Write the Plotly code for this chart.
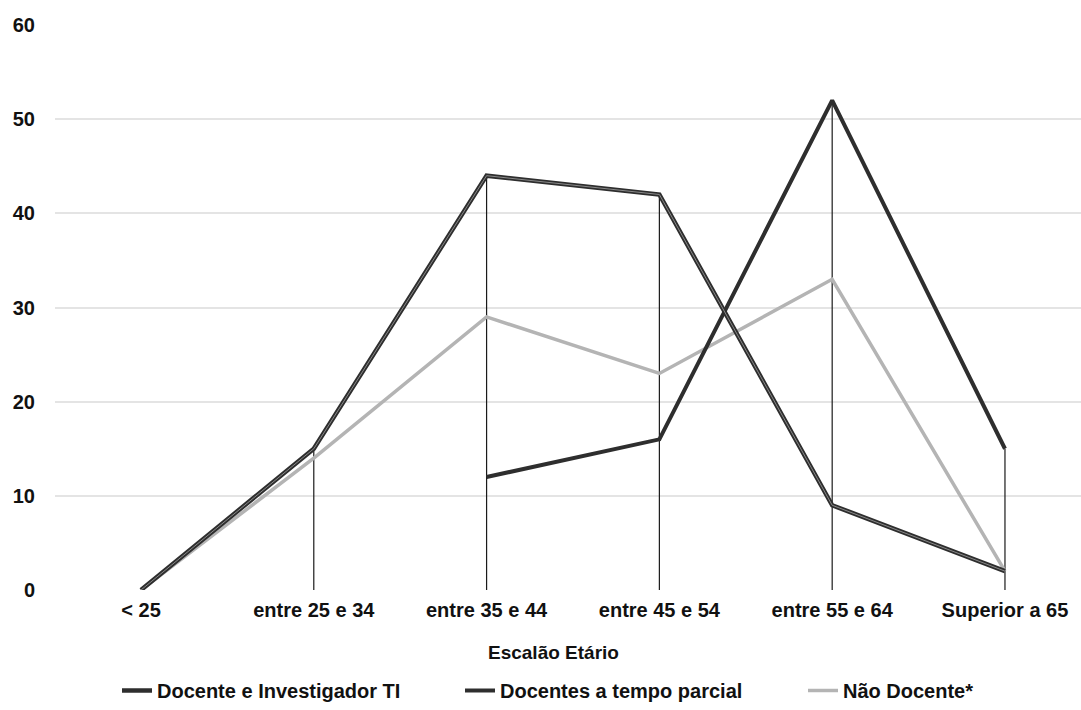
import plotly.graph_objects as go

# Age brackets (x categories)
categorias = ["< 25", "entre 25 e 34", "entre 35 e 44", "entre 45 e 54", "entre 55 e 64", "Superior a 65"]

# Headcounts per age bracket
docente_ti = [0, 15, 44, 42, 9, 2]
tempo_parcial = [None, None, 12, 16, 52, 15]
nao_docente = [0, 14, 29, 23, 33, 2]

y_ticks = [0, 10, 20, 30, 40, 50, 60]

FONT = "Liberation Sans, Arial, sans-serif"
xs = list(range(len(categorias)))

# plot area geometry (px)
L, T, B = 55, 25, 119
W, H = 1081, 710
PW, PH = W - L, H - T - B

fig = go.Figure()

# Drop lines: from the highest value of each bracket down to the axis
drop_x, drop_y = [], []
for i in xs:
    vals = [v for v in (docente_ti[i], tempo_parcial[i], nao_docente[i]) if v is not None]
    top = max(vals)
    if top > 0:
        drop_x += [i, i, None]
        drop_y += [0, top, None]
fig.add_trace(go.Scatter(x=drop_x, y=drop_y, mode="lines",
                         line=dict(color="#1a1a1a", width=1.2),
                         showlegend=False, hoverinfo="skip"))

fig.add_trace(go.Scatter(x=xs, y=nao_docente, mode="lines", name="Não Docente*",
                         line=dict(color="#b4b4b4", width=3.5), legendrank=3, legendwidth=140))
fig.add_trace(go.Scatter(x=xs, y=tempo_parcial, mode="lines", name="Docentes a tempo parcial",
                         line=dict(color="#2e2e2e", width=4), legendrank=2, legendwidth=298))
fig.add_trace(go.Scatter(x=xs, y=docente_ti, mode="lines", name="Docente e Investigador TI",
                         line=dict(color="#2e2e2e", width=4.5), legendrank=1, legendwidth=298))
# Light core stroke giving the double-line look of the TI series
fig.add_trace(go.Scatter(x=xs, y=docente_ti, mode="lines",
                         line=dict(color="#8a8a8a", width=1),
                         showlegend=False, hoverinfo="skip"))

fig.update_layout(
    width=W, height=H,
    margin=dict(l=L, r=0, t=T, b=B),
    paper_bgcolor="white", plot_bgcolor="white",
    font=dict(family=FONT, color="#111111"),
    showlegend=True,
    legend=dict(orientation="h", x=(117 - L) / PW, xanchor="left",
                y=-(692 - (H - B)) / PH, yanchor="middle",
                font=dict(family=FONT, size=20, color="#111111", weight="bold"),
                traceorder="normal", bgcolor="rgba(0,0,0,0)"),
    xaxis=dict(
        range=[-0.4977, 5.44], tickmode="array", tickvals=xs, ticktext=categorias,
        showgrid=False, zeroline=False, showline=False,
        ticks="outside", ticklen=2, tickcolor="rgba(0,0,0,0)",
        tickfont=dict(family=FONT, size=20, color="#111111", weight="bold"),
    ),
    yaxis=dict(
        range=[0, 60], tickmode="array", tickvals=y_ticks,
        showgrid=True, gridcolor="#e4e4e4", gridwidth=1.5,
        zeroline=False, showline=False,
        ticks="outside", ticklen=15, tickcolor="rgba(0,0,0,0)",
        tickfont=dict(family=FONT, size=20, color="#111111", weight="bold"),
    ),
)

# Axis title placed under the category labels
fig.add_annotation(text="<b>Escalão Etário</b>", xref="paper", yref="paper",
                   x=(553 - L) / PW, y=-(654 - (H - B)) / PH, xanchor="center", yanchor="middle",
                   showarrow=False, font=dict(family=FONT, size=19, color="#111111"))

fig.write_html("out.html")
